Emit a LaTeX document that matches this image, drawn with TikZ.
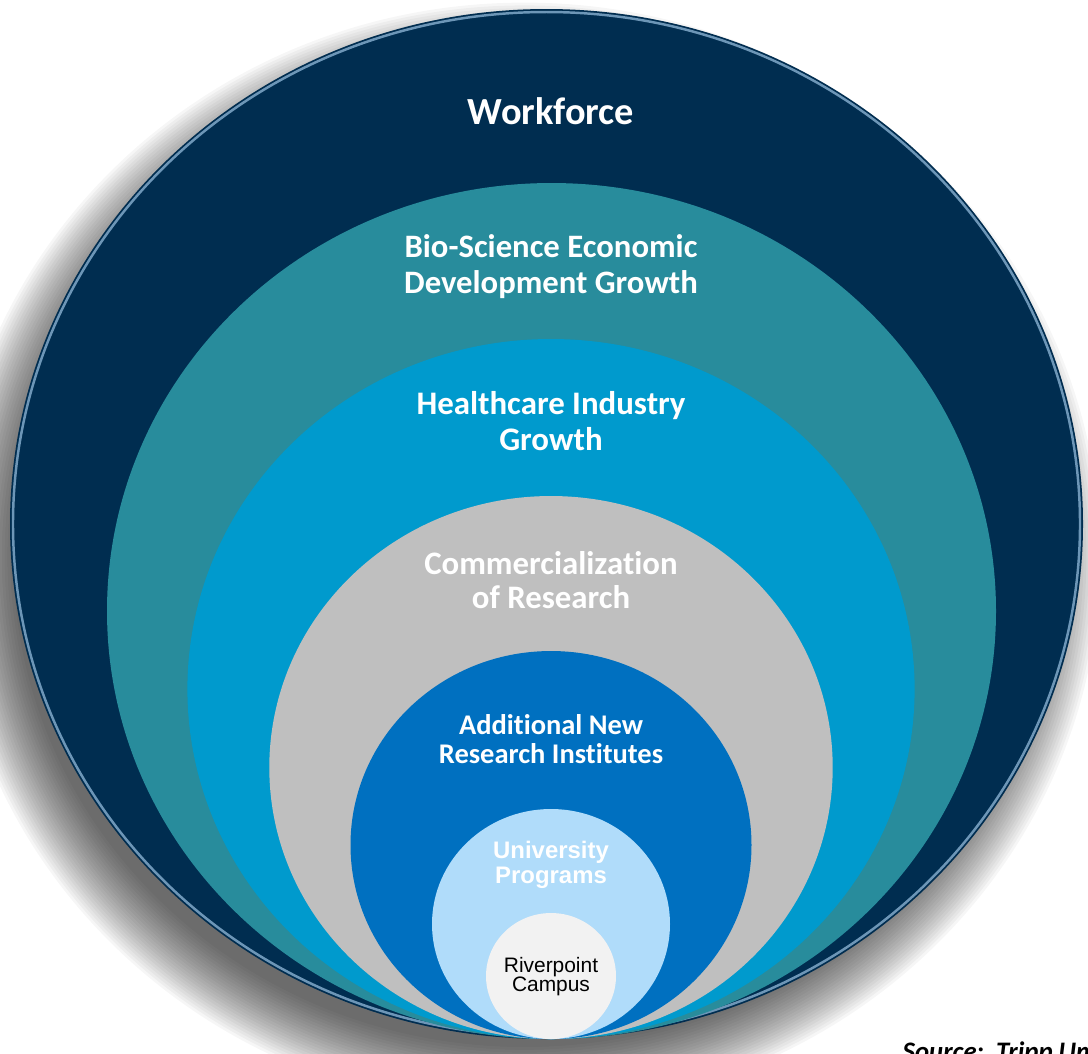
\documentclass[tikz,border=0pt]{standalone}
\usepackage{xcolor}
\usepackage{fontspec}
\setmainfont{Carlito}[Ligatures = NoCommon]
\newfontfamily\arialfont{Liberation Sans}
\usepackage{tikz}

\definecolor{navyring}{HTML}{002D50}
\definecolor{tealring}{HTML}{288C9C}
\definecolor{cyanring}{HTML}{009ACD}
\definecolor{grayring}{HTML}{BFBFBF}
\definecolor{bluering}{HTML}{0070C0}
\definecolor{paleblue}{HTML}{B0DCFA}
\definecolor{whitering}{HTML}{F2F2F2}
\definecolor{rimlight}{HTML}{9CC4E4}

\tikzset{
  ringtext/.style = {white, align = center, anchor = base, inner sep = 0pt},
  rim/.style = {draw = rimlight, opacity = 0.7, line width = 0.7pt}
}

\begin{document}
\begin{tikzpicture}[x = 0.01cm, y = -0.01cm]
    \useasboundingbox (0, 0) rectangle (1088, 1053);
    \clip (0, 0) rectangle (1088, 1053);
    % soft shadow
    \foreach \k in {0, ..., 23}
      {
        \pgfmathsetmacro{\rx}{511.5 + 2.8*\k}
        \pgfmathsetmacro{\ry}{490 + 2.8*\k}
        \fill[black, opacity = 0.036] (524.5, 557) ellipse [x radius = \rx, y radius = \ry];
      }
    % rings, outside in
    \fill[fill = navyring] (546.5, 524) ellipse [x radius = 536.5, y radius = 515];
    \draw[rim] (546.5, 524) ellipse [x radius = 533.5, y radius = 512];
    \fill[fill = tealring] (551.5, 611) ellipse [x radius = 444.5, y radius = 428];
    \fill[fill = cyanring] (551, 689) ellipse [x radius = 363.6, y radius = 350];
    \fill[fill = grayring] (551, 767.5) ellipse [x radius = 281.7, y radius = 271.5];
    \fill[fill = bluering] (551, 845) ellipse [x radius = 200.5, y radius = 194];
    \fill[fill = paleblue] (551, 924) ellipse [x radius = 119, y radius = 115];
    \fill[fill = whitering] (551, 976) ellipse [x radius = 65, y radius = 63];

    % base anchor sits on the last line
    \node[ringtext, font = \bfseries\fontsize{10.9}{12}\selectfont] (workforce) at (551, 124) {Workforce};
    \node[ringtext, font = \bfseries\fontsize{9.3}{10}\selectfont] (bioscience) at (551, 293) {Bio-Science Economic\\Development Growth};
    \node[ringtext, font = \bfseries\fontsize{9.35}{10}\selectfont] (healthcare) at (551, 450) {Healthcare Industry\\Growth};
    \node[ringtext, font = \bfseries\fontsize{9.33}{9.4}\selectfont] (commercial) at (551, 608) {Commercialization\\of Research};
    \node[ringtext, font = \bfseries\fontsize{8.1}{8}\selectfont] (institutes) at (551, 763) {Additional New\\Research Institutes};
    \node[ringtext, font = \arialfont\bfseries\fontsize{6.8}{6}\selectfont] (university) at (551, 883) {University\\Programs};
    \node[ringtext, black, font = \arialfont\fontsize{5.95}{5.4}\selectfont] (riverpoint) at (551, 991) {Riverpoint\\Campus};
    \node[anchor = base west, inner sep = 0pt, font = \bfseries\itshape\fontsize{7.6}{9}\selectfont] (source) at (902, 1060) {Source:\ \ Tripp Umbach};
\end{tikzpicture}
\end{document}
